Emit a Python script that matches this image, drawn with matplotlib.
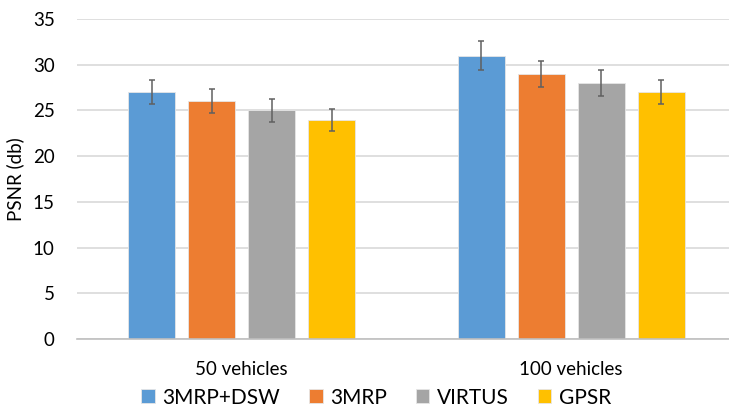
import numpy as np
import matplotlib.pyplot as plt

plt.rcParams['font.family'] = ['Lato', 'DejaVu Sans']

groups = ['50 vehicles', '100 vehicles']
series = ['3MRP+DSW', '3MRP', 'VIRTUS', 'GPSR']
colors = ['#5B9BD5', '#ED7D31', '#A5A5A5', '#FFC000']
values = [[27, 31], [26, 29], [25, 28], [24, 27]]
errors = [[1.35, 1.55], [1.3, 1.45], [1.25, 1.4], [1.2, 1.35]]

fig = plt.figure(figsize=(7.29, 4.12), dpi=100)
ax = fig.add_axes([77/729, 1 - 339/412, (729 - 77)/729, 320/412])

x = np.arange(len(groups))
w = 0.1426
step = 0.182
for i, name in enumerate(series):
    pos = x + (i - 1.5) * step
    ax.bar(pos, values[i], w, color=colors[i], edgecolor='#e6e6e6', linewidth=0.6,
           label=name, zorder=2)
    ax.errorbar(pos, values[i], yerr=errors[i], fmt='none', ecolor='#606060',
                elinewidth=1.1, capsize=2.5, capthick=1.1, zorder=3)

ax.set_xlim(-0.5, 1.479)
ax.set_ylim(0, 35)
ax.set_yticks(range(0, 36, 5))
ax.set_xticks(x)
ax.set_xticklabels(groups)
ax.yaxis.grid(True, color='#D9D9D9', linewidth=1.2, zorder=0)
ax.set_axisbelow(True)
for s in ['top', 'right', 'left']:
    ax.spines[s].set_visible(False)
ax.spines['bottom'].set_color('#BFBFBF')
ax.spines['bottom'].set_linewidth(1.2)
ax.tick_params(axis='both', length=0, labelsize=13.5, colors='#000000')
ax.tick_params(axis='x', pad=16)
ax.tick_params(axis='y', pad=16)
ax.set_ylabel('PSNR (db)', fontsize=13.5, labelpad=6)

fig.legend(loc='lower center', bbox_to_anchor=(376/729, -0.035), ncol=4, frameon=False,
           fontsize=15, handlelength=0.65, handleheight=0.65, handletextpad=0.35,
           columnspacing=1.4)

plt.savefig('out.png')
